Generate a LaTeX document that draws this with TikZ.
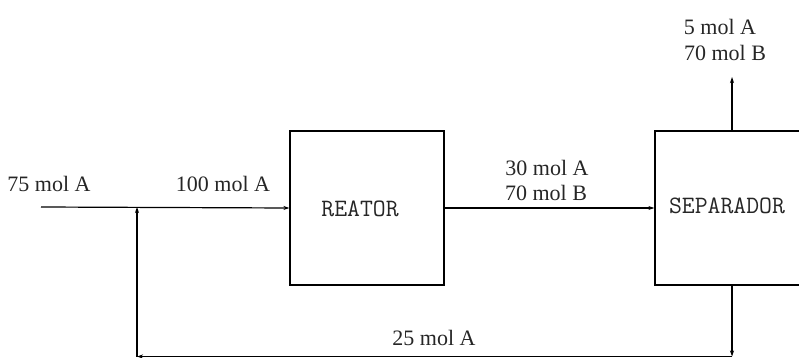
\documentclass[tikz,border=0pt]{standalone}
\usepackage{fontspec}
\setmainfont{Liberation Serif}
\usetikzlibrary{arrows.meta}
\begin{document}
\begin{tikzpicture}[x=1pt,y=-1pt,
  line/.style={line width=1.2pt,draw=black},
  arr/.style={line,-{Stealth[length=6pt,width=4pt]}},
  unit/.style={draw=black,line width=1.2pt,minimum width=154pt,minimum height=154pt,inner sep=0pt},
  lbl/.style={font=\fontsize{22}{26}\selectfont,inner sep=0pt,text=black!85},
  boxlbl/.style={font=\ttfamily\fontsize{25}{28}\selectfont,inner sep=0pt,text=black!85}]
\useasboundingbox (0,0) rectangle (799,358);
\clip (0,0) rectangle (799,358);
\node[unit] (reactor) at (367,208) {};
\node[unit] (sep) at (732,208) {};
\node[boxlbl] (reatorlbl) at (360,209) {REATOR};
\node[boxlbl] (seplbl) at (727,206) {SEPARADOR};
\coordinate (in) at (41,207);
\coordinate (mix) at (137,207);
\coordinate (top) at (732,77);
\coordinate (br) at (732,356.5);
\coordinate (bl) at (137,356.5);
\draw[arr] (in) -- (reactor.west);
\draw[arr] (reactor.east) -- (sep.west);
\draw[arr] (sep.north) -- (top);
\draw[arr] (sep.south) -- (br);
\draw[arr] (br) -- (bl);
\draw[arr] (bl) -- (mix);
\node[lbl] (l1) at (49,184) {75 mol A};
\node[lbl] (l2) at (223,184) {100 mol A};
\node[lbl] (l3a) at (547,168) {30 mol A};
\node[lbl] (l3b) at (546,193) {70 mol B};
\node[lbl] (l4a) at (720,27) {5 mol A};
\node[lbl] (l4b) at (725,53) {70 mol B};
\node[lbl] (l5) at (434,338) {25 mol A};
\end{tikzpicture}
\end{document}
